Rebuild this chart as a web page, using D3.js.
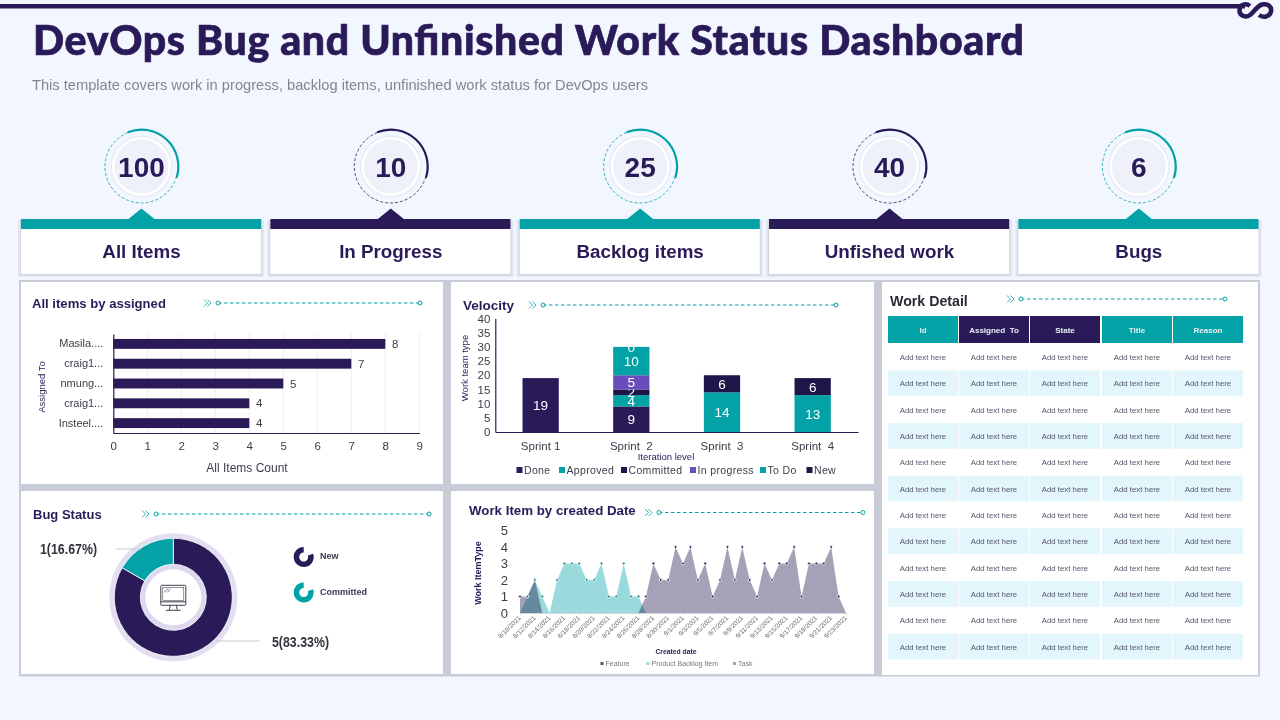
<!DOCTYPE html>
<html>
<head>
<meta charset="utf-8">
<script src="https://cdn.jsdelivr.net/npm/d3@7"></script>
<style>
  html, body { margin: 0; padding: 0; background: #f2f6ff; }
  svg { display: block; }
  text { font-family: "Liberation Sans", Arial, sans-serif; }
</style>
</head>
<body>
<svg id="chart" width="1280" height="720"></svg>
<script>
const purple = "#2a1b58", teal = "#03a2a6", inkDark = "#1e1548", violet = "#6a4dbd"

// kpi row
const kpiValues = [100, 10, 25, 40, 6]
const kpiLabels = ["All Items", "In Progress", "Backlog items", "Unfished work", "Bugs"]

// all items by assigned
const assignees = ["Masila....", "craig1...", "nmung...", "craig1...", "Insteel...."]
const assignedCounts = [8, 7, 5, 4, 4]

// velocity
const sprints = ["Sprint 1", "Sprint  2", "Sprint  3", "Sprint  4"]
const velocityStates = ["Done", "Approved", "Committed", "In progress", "To Do", "New"]
const velocityDone = [19, 9, 0, 0]
const velocityApproved = [0, 4, 0, 0]
const velocityCommitted = [0, 2, 0, 0]
const velocityInProgress = [0, 5, 0, 0]
const velocityToDo = [0, 10, 14, 13]
const velocityNew = [0, 0, 6, 6]
const velocityColors = [purple, teal, inkDark, violet, teal, inkDark]

// bug status
const bugStates = ["New", "Committed"]
const bugCounts = [5, 1]
const bugLabels = ["5(83.33%)", "1(16.67%)"]

// work item by created date
const createdDates = ["8/10/2021","8/11/2021","8/12/2021","8/13/2021","8/14/2021","8/15/2021","8/16/2021","8/17/2021","8/18/2021","8/19/2021","8/20/2021","8/21/2021","8/22/2021","8/23/2021","8/24/2021","8/25/2021","8/26/2021","8/27/2021","8/28/2021","8/29/2021","8/30/2021","8/31/2021","9/1/2021","9/2/2021","9/3/2021","9/4/2021","9/5/2021","9/6/2021","9/7/2021","9/8/2021","9/9/2021","9/10/2021","9/11/2021","9/12/2021","9/13/2021","9/14/2021","9/15/2021","9/16/2021","9/17/2021","9/18/2021","9/19/2021","9/20/2021","9/21/2021","9/22/2021","9/23/2021"]
const workTask =    [1,1,2,0,0,0,0,0,0,0,0,0,0,0,0,0,0,1,3,2,2,4,3,4,2,3,1,2,4,2,4,2,1,3,2,3,3,4,1,3,3,3,4,1,0]
const workBacklog = [0,1,2,1,0,2,3,3,3,2,2,3,1,1,3,1,1,0,0,0,0,0,0,0,0,0,0,0,0,0,0,0,0,0,0,0,0,0,0,0,0,0,0,0,0]
const workLegend = ["Feature", "Product Backlog Item", "Task"]

// work detail table
const tableHeaders = ["Id", "Assigned  To", "State", "Title", "Reason"]
const tableRowCount = 12
const cellText = "Add text here"

const svg = d3.select("#chart")

// top rule + infinity mark
svg.append("rect").attr("x", 0).attr("y", 4).attr("width", 1245).attr("height", 4.5).attr("fill", purple)
svg.append("path")
  .attr("d", "M1250 6 C1246 3,1240 4,1239.5 10 C1239 16,1246 18,1250 15 C1254 12,1257 6,1262 4.5 C1268 3,1272 7,1271 11.5 C1270 17,1263 18,1259 15")
  .attr("fill", "none").attr("stroke", purple).attr("stroke-width", 4.5)

svg.append("text").attr("x", 33).attr("y", 55)
  .attr("textLength", 991).attr("lengthAdjust", "spacing")
  .style("font-family", "Lato").style("font-weight", 900).style("font-size", "41px")
  .attr("fill", purple).attr("stroke", purple).attr("stroke-width", 0.7)
  .text("DevOps Bug and Unfinished Work Status Dashboard")
svg.append("text").attr("x", 32).attr("y", 90)
  .attr("textLength", 616).attr("lengthAdjust", "spacingAndGlyphs")
  .style("font-size", "15px").attr("fill", "#85858f")
  .text("This template covers work in progress, backlog items, unfinished work status for DevOps users")

// kpi cards
const cardX = d3.scaleBand().domain(d3.range(kpiValues.length)).range([21, 1258.5]).paddingInner(0.037)
const arc = d3.arc()

kpiValues.forEach((v, i) => {
  const color = i % 2 ? purple : teal
  const x0 = cardX(i), w = cardX.bandwidth(), cx = x0 + w / 2 + 0.4, cy = 166.5
  const g = svg.append("g")

  g.append("circle").attr("cx", cx).attr("cy", cy).attr("r", 36.5)
    .attr("fill", "none").attr("stroke", color).attr("stroke-width", 0.8).attr("stroke-dasharray", "3 2")
  g.append("path").attr("transform", `translate(${cx},${cy})`)
    .attr("d", arc({ innerRadius: 35.8, outerRadius: 38, startAngle: -0.38, endAngle: 1.88 }))
    .attr("fill", color)
  g.append("circle").attr("cx", cx).attr("cy", cy).attr("r", 31).attr("fill", "#e9ecf5")
  g.append("circle").attr("cx", cx).attr("cy", cy).attr("r", 29.5).attr("fill", "#fff")
  g.append("circle").attr("cx", cx).attr("cy", cy).attr("r", 27).attr("fill", "#eef1f9")
  g.append("text").attr("x", cx).attr("y", cy + 10).attr("text-anchor", "middle")
    .style("font-size", "28px").style("font-weight", 700).attr("fill", purple).text(v)

  g.append("path").attr("d", `M${cx - 13} 219 L${cx} 208.5 L${cx + 13} 219 Z`).attr("fill", color)
  g.append("rect").attr("x", x0 - 3).attr("y", 220).attr("width", w + 6).attr("height", 57).attr("fill", "#e3e6ee")
  g.append("rect").attr("x", x0 - 1).attr("y", 220).attr("width", w + 2).attr("height", 55.5).attr("fill", "#d0d5df")
  g.append("rect").attr("x", x0).attr("y", 219).attr("width", w).attr("height", 55).attr("fill", "#fff")
  g.append("rect").attr("x", x0).attr("y", 219).attr("width", w).attr("height", 10).attr("fill", color)
  g.append("text").attr("x", cx).attr("y", 258).attr("text-anchor", "middle")
    .style("font-size", "18.8px").style("font-weight", 700).attr("fill", purple).text(kpiLabels[i])
})

// panels sit on one grey slab, the gaps between them are the slab showing through
svg.append("rect").attr("x", 19).attr("y", 280).attr("width", 1241).attr("height", 396.5).attr("fill", "#c8ccd6")
function panel(x, y, w, h) {
  svg.append("rect").attr("x", x).attr("y", y).attr("width", w).attr("height", h).attr("fill", "#fff")
}
panel(21, 282, 422, 202)
panel(451, 282, 423, 202)
panel(21, 491, 422, 183)
panel(451, 491, 423, 183)
panel(882, 282, 376, 393)

function panelTitle(label, x, y, size, dashFrom, dashTo, baseOffset = 5, color = purple) {
  svg.append("text").attr("x", x).attr("y", y + baseOffset).style("font-size", size + "px").style("font-weight", 700)
    .attr("fill", color).text(label)
  const cx = dashFrom - 13
  svg.append("path").attr("d", `M${cx - 1} ${y - 3.5} L${cx + 2.5} ${y} L${cx - 1} ${y + 3.5} M${cx + 2.5} ${y - 3.5} L${cx + 6} ${y} L${cx + 2.5} ${y + 3.5}`)
    .attr("fill", "none").attr("stroke", teal).attr("stroke-width", 0.8)
  svg.append("line").attr("x1", dashFrom).attr("x2", dashTo).attr("y1", y).attr("y2", y)
    .attr("stroke", teal).attr("stroke-width", 1).attr("stroke-dasharray", "3.5 2.5")
  ;[dashFrom, dashTo].forEach(cx => {
    svg.append("circle").attr("cx", cx).attr("cy", y).attr("r", 2)
      .attr("fill", "#fff").attr("stroke", teal).attr("stroke-width", 1)
  })
}
panelTitle("All items by assigned", 32, 303, 13.1, 218, 420)
panelTitle("Velocity", 463, 305, 13.5, 543, 836)
panelTitle("Bug  Status", 33, 514, 13, 156, 429)
panelTitle("Work Item by created Date", 469, 512.5, 13.3, 659, 863, 2.5)
panelTitle("Work Detail", 890, 299, 14.2, 1021, 1225, 7, "#2b2b38")

// all items by assigned
{
  const x = d3.scaleLinear().domain([0, 9]).range([113.3, 419.3])
  const y = d3.scaleBand().domain(d3.range(assignees.length)).range([334, 433]).paddingInner(0.5).paddingOuter(0.25)
  const g = svg.append("g")

  g.selectAll(".grid").data(x.ticks(9).slice(1)).join("line")
    .attr("x1", d => x(d)).attr("x2", d => x(d)).attr("y1", 333).attr("y2", 433)
    .attr("stroke", "#eceef2")

  g.selectAll(".bar").data(assignedCounts).join("rect")
    .attr("x", x(0)).attr("y", (d, i) => y(i)).attr("width", d => x(d) - x(0)).attr("height", y.bandwidth())
    .attr("fill", purple)

  g.selectAll(".val").data(assignedCounts).join("text")
    .attr("x", d => x(d) + 10).attr("y", (d, i) => y(i) + y.bandwidth() / 2 + 4)
    .attr("text-anchor", "middle").style("font-size", "11.5px").attr("fill", "#3c3c4a").text(d => d)

  const xAxis = g.append("g").attr("transform", "translate(0,433)")
    .call(d3.axisBottom(x).ticks(9).tickSize(0).tickPadding(9))
  xAxis.select(".domain").attr("stroke", purple).attr("stroke-width", 1.2)
  xAxis.selectAll("text").style("font-size", "11.5px").attr("fill", "#3c3c4a")

  const yAxis = g.append("g").attr("transform", "translate(113.3,0)")
    .call(d3.axisLeft(y).tickSize(0).tickPadding(10).tickFormat(i => assignees[i]))
  yAxis.select(".domain").attr("stroke", purple).attr("stroke-width", 1.2)
  yAxis.selectAll("text").style("font-size", "11px").attr("fill", "#3c3c4a")

  g.append("text").attr("x", 247).attr("y", 472).attr("text-anchor", "middle")
    .style("font-size", "12px").attr("fill", "#3c3c4a").text("All Items Count")
  g.append("text").attr("transform", "translate(44.5,387) rotate(-90)").attr("text-anchor", "middle")
    .style("font-size", "9.5px").attr("fill", purple).text("Assigned To")
}

// velocity stacked bars
{
  const rows = sprints.map((s, i) => ({
    sprint: s,
    Done: velocityDone[i], Approved: velocityApproved[i], Committed: velocityCommitted[i],
    "In progress": velocityInProgress[i], "To Do": velocityToDo[i], New: velocityNew[i]
  }))
  const stack = d3.stack().keys(velocityStates)(rows)
  const x = d3.scaleBand().domain(sprints).range([495.3, 858]).paddingInner(0.6).paddingOuter(0.3)
  const y = d3.scaleLinear().domain([0, 40]).range([432, 318.5])
  const color = d3.scaleOrdinal(velocityStates, velocityColors)
  const g = svg.append("g")

  stack.forEach(layer => {
    g.selectAll(null).data(layer).join("rect")
      .attr("x", d => x(d.data.sprint)).attr("width", x.bandwidth())
      .attr("y", d => y(d[1])).attr("height", d => y(d[0]) - y(d[1]))
      .attr("fill", color(layer.key))
    g.selectAll(null).data(layer.filter(d => d[1] > d[0] || (layer.key === "New" && d.data.sprint === "Sprint  2"))).join("text")
      .attr("x", d => x(d.data.sprint) + x.bandwidth() / 2).attr("y", d => y((d[0] + d[1]) / 2) + 5)
      .attr("text-anchor", "middle").style("font-size", "13.5px").attr("fill", "#fff")
      .text(d => d[1] - d[0])
  })

  const xAxis = g.append("g").attr("transform", "translate(0,432)")
    .call(d3.axisBottom(x).tickSize(0).tickPadding(10))
  xAxis.select(".domain").attr("stroke", purple).attr("stroke-width", 1.2)
  xAxis.selectAll("text").style("font-size", "11.5px").style("white-space", "pre").attr("fill", "#3c3c4a")

  const yAxis = g.append("g").attr("transform", "translate(495.3,0)")
    .call(d3.axisLeft(y).tickValues(d3.range(0, 41, 5)).tickSize(0).tickPadding(5))
  yAxis.select(".domain").attr("stroke", purple).attr("stroke-width", 1.2)
  yAxis.selectAll("text").style("font-size", "11.5px").attr("fill", "#3c3c4a")

  g.append("text").attr("transform", "translate(468,368) rotate(-90)").attr("text-anchor", "middle")
    .style("font-size", "9.5px").attr("fill", purple).text("Work team type")
  g.append("text").attr("x", 666).attr("y", 460).attr("text-anchor", "middle")
    .style("font-size", "9.5px").attr("fill", purple).text("Iteration level")

  const legendX = [516.5, 559, 621, 690, 760, 806.5]
  velocityStates.forEach((s, i) => {
    g.append("rect").attr("x", legendX[i]).attr("y", 467).attr("width", 6).attr("height", 6).attr("fill", velocityColors[i])
    g.append("text").attr("x", legendX[i] + 7.5).attr("y", 474).style("font-size", "10.5px").style("letter-spacing", "0.35px")
      .attr("fill", "#3c3c4a").text(s)
  })
}

// bug status donut
{
  const cx = 173.3, cy = 597.3
  const g = svg.append("g").attr("transform", `translate(${cx},${cy})`)
  const pie = d3.pie().sort(null)(bugCounts)
  const slice = d3.arc().innerRadius(33).outerRadius(59)

  g.append("circle").attr("r", 64).attr("fill", "#e2dff3")
  g.append("circle").attr("r", 33).attr("fill", "#dcd8ee")
  g.append("circle").attr("r", 28).attr("fill", "#fff")
  g.selectAll("path").data(pie).join("path")
    .attr("d", slice).attr("fill", (d, i) => i ? teal : purple).attr("stroke", "#fff").attr("stroke-width", 0.8)

  // monitor icon
  const icon = g.append("g").attr("fill", "none").attr("stroke", "#2b2b3a").attr("stroke-width", 0.9)
  icon.append("rect").attr("x", -12.5).attr("y", -12).attr("width", 25).attr("height", 20).attr("rx", 1)
  icon.append("line").attr("x1", -12.5).attr("x2", 12.5).attr("y1", 4.5).attr("y2", 4.5)
  icon.append("path").attr("d", "M-3 8 L-4 12.5 M3 8 L4 12.5 M-7.5 13 H7.5")
  icon.append("rect").attr("x", -10.5).attr("y", -10).attr("width", 21).attr("height", 13).attr("stroke-width", 0.5)
  icon.append("path").attr("d", "M-9 -5 L-5 -9 M-6 -5 L-3 -8").attr("stroke-width", 0.7)

  svg.append("line").attr("x1", 116).attr("x2", 141).attr("y1", 549).attr("y2", 549).attr("stroke", "#c9c9d0")
  svg.append("line").attr("x1", 215).attr("x2", 260).attr("y1", 641).attr("y2", 641).attr("stroke", "#c9c9d0")
  svg.append("text").attr("x", 40).attr("y", 553.5).attr("textLength", 57).attr("lengthAdjust", "spacingAndGlyphs")
    .style("font-size", "14px").style("font-weight", 700).attr("fill", "#33333f").text(bugLabels[1])
  svg.append("text").attr("x", 272).attr("y", 646.5).attr("textLength", 57).attr("lengthAdjust", "spacingAndGlyphs")
    .style("font-size", "14px").style("font-weight", 700).attr("fill", "#33333f").text(bugLabels[0])

  // legend icons: open ring with the gap on the upper right
  const mini = d3.arc().innerRadius(4.5).outerRadius(10).startAngle(1.25).endAngle(2 * Math.PI)
  bugStates.forEach((s, i) => {
    const ly = 557 + i * 35.5
    svg.append("path").attr("transform", `translate(303.7,${ly})`).attr("d", mini())
      .attr("fill", i ? teal : purple)
    svg.append("text").attr("x", 320).attr("y", ly + 2).style("font-size", "9px").style("font-weight", 700)
      .attr("fill", "#3a3a52").text(s)
  })
}

// work item areas
{
  const x = d3.scalePoint().domain(createdDates).range([520, 846])
  const y = d3.scaleLinear().domain([0, 5]).range([613, 530.5])
  const g = svg.append("g").style("isolation", "isolate")
  const area = d3.area().x((d, i) => x(createdDates[i])).y0(y(0)).y1(d => y(d))

  g.append("path").datum(workTask).attr("d", area).attr("fill", "#a7a1b8").style("mix-blend-mode", "multiply")
  g.append("path").datum(workBacklog).attr("d", area).attr("fill", "#9adadd").style("mix-blend-mode", "multiply")

  // small point markers, only where a series has a value
  const markers = (vals, color) => {
    g.selectAll(null).data(vals.map((v, i) => [createdDates[i], v]).filter(d => d[1] > 0)).join("circle")
      .attr("cx", d => x(d[0])).attr("cy", d => y(d[1])).attr("r", 1.4)
      .attr("fill", color).attr("stroke", "#fff").attr("stroke-width", 0.8)
  }
  markers(workTask, purple)
  markers(workBacklog, "#1b7f85")

  const ticks = createdDates.filter((d, i) => i % 2 === 0)
  const xAxis = g.append("g").attr("transform", "translate(0,613)")
    .call(d3.axisBottom(x).tickValues(ticks).tickSize(2).tickPadding(1))
  xAxis.select(".domain").attr("stroke", "#d8d8de")
  xAxis.selectAll("line").attr("stroke", "#d8d8de")
  xAxis.selectAll("text").style("font-size", "6.5px").attr("fill", "#6a6a75")
    .attr("text-anchor", "end").attr("transform", "rotate(-45)").attr("dx", "-0.5em").attr("dy", "0.2em")

  const yAxis = g.append("g").attr("transform", "translate(512,0)")
    .call(d3.axisLeft(y).ticks(5).tickSize(0).tickPadding(4))
  yAxis.select(".domain").remove()
  yAxis.selectAll("text").style("font-size", "13px").attr("fill", "#3c3c4a")

  g.append("text").attr("transform", "translate(481,573) rotate(-90)").attr("text-anchor", "middle")
    .style("font-size", "9px").style("font-weight", 700).attr("fill", purple).text("Work ItemType")
  g.append("text").attr("x", 676).attr("y", 654).attr("text-anchor", "middle")
    .style("font-size", "6.8px").style("font-weight", 700).attr("fill", purple).text("Created date")

  const legendX = [600.5, 646.5, 733]
  const legendColors = ["#55506e", "#9adadd", "#a7a1b8"]
  workLegend.forEach((s, i) => {
    g.append("rect").attr("x", legendX[i]).attr("y", 662).attr("width", 3).attr("height", 3).attr("fill", legendColors[i])
    g.append("text").attr("x", legendX[i] + 5).attr("y", 666).style("font-size", "7px").attr("fill", "#77777f").text(s)
  })
}

// work detail table
{
  const colX = [888, 959, 1030, 1102, 1173]
  const colW = 70
  const row = d3.scaleLinear().domain([0, tableRowCount]).range([344, 660])
  const headerColors = [teal, purple, purple, teal, teal]
  const g = svg.append("g")

  tableHeaders.forEach((h, c) => {
    g.append("rect").attr("x", colX[c]).attr("y", 316).attr("width", colW).attr("height", 27).attr("fill", headerColors[c])
    g.append("text").attr("x", colX[c] + colW / 2).attr("y", 333).attr("text-anchor", "middle")
      .style("font-size", "8px").style("font-weight", 700).style("white-space", "pre").attr("fill", "#e6eff4").text(h)
  })
  d3.range(tableRowCount).forEach(r => {
    colX.forEach(cxLeft => {
      if (r % 2) g.append("rect").attr("x", cxLeft).attr("y", row(r)).attr("width", colW).attr("height", row(r + 1) - row(r) - 0.6).attr("fill", "#e2f6fc")
      g.append("text").attr("x", cxLeft + colW / 2).attr("y", row(r) + 16).attr("text-anchor", "middle")
        .style("font-size", "7.8px").attr("fill", "#55556a").text(cellText)
    })
  })
}
</script>
</body>
</html>
